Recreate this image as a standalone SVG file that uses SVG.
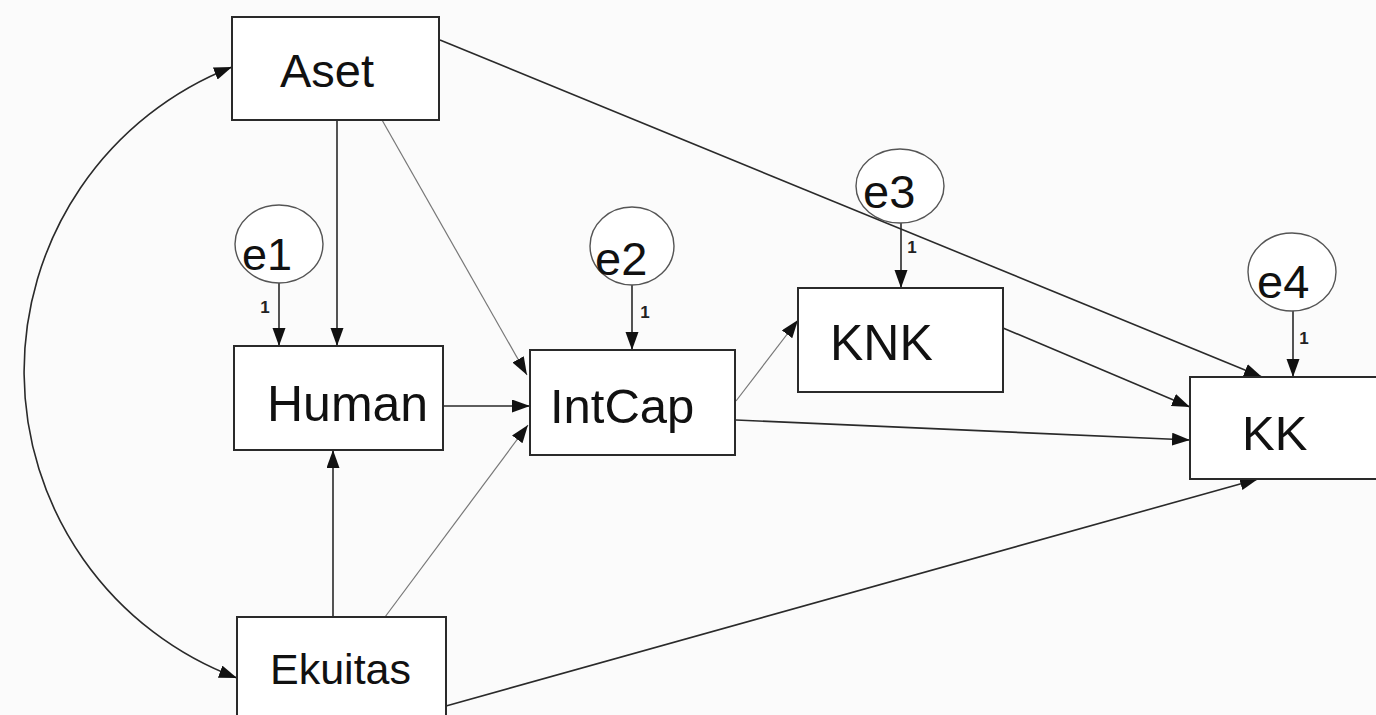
<svg xmlns="http://www.w3.org/2000/svg" width="1376" height="715" viewBox="0 0 1376 715">
<defs>
<style>
.box{fill:#ffffff;stroke:#2a2a2a;stroke-width:2}
.err{fill:#ffffff;stroke:#555;stroke-width:1.4}
.lbl{font-family:"Liberation Sans",Arial,sans-serif;fill:#111}
.one{font-family:"Liberation Sans",Arial,sans-serif;font-size:17px;font-weight:bold;fill:#222;text-anchor:middle}
.c{fill:none;stroke:#2a2a2a;stroke-width:1.6;marker-end:url(#ah)}
.cl{fill:none;stroke:#777;stroke-width:1.2;marker-end:url(#ah)}
</style>
<marker id="ah" markerUnits="userSpaceOnUse" markerWidth="20" markerHeight="14" refX="18" refY="6.5" orient="auto-start-reverse"><path d="M0,0 L18,6.5 L0,13 z" fill="#111"/></marker>
</defs>
<rect width="1376" height="715" fill="#fbfbfb"/>
<g id="connectors">
<path d="M232,67 A327,327 0 0 0 237,678" class="c" style="marker-start:url(#ah)"/>
<line x1="337" y1="120" x2="337" y2="346" class="c"/>
<line x1="382" y1="120" x2="527" y2="375" class="cl"/>
<line x1="440" y1="40" x2="1262" y2="377" class="c"/>
<line x1="279" y1="283" x2="279" y2="346" class="c"/>
<line x1="632" y1="285" x2="632" y2="350" class="c"/>
<line x1="901" y1="223" x2="901" y2="288" class="c"/>
<line x1="1293" y1="311" x2="1293" y2="377" class="c"/>
<line x1="443" y1="406" x2="530" y2="406" class="c"/>
<line x1="333" y1="617" x2="333" y2="450" class="c"/>
<line x1="385" y1="617" x2="528" y2="425" class="cl"/>
<line x1="736" y1="401" x2="798" y2="320" class="cl"/>
<line x1="736" y1="420" x2="1190" y2="440" class="c"/>
<line x1="1003" y1="328" x2="1190" y2="407" class="c"/>
<line x1="446" y1="706" x2="1258" y2="479" class="c"/>
</g>
<g id="Aset"><rect x="232" y="17" width="207" height="103" class="box"/><text x="280" y="87" class="lbl" font-size="47">Aset</text></g>
<g id="Human"><rect x="234" y="346" width="209" height="104" class="box"/><text x="267" y="421" class="lbl" font-size="50">Human</text></g>
<g id="IntCap"><rect x="530" y="350" width="205" height="105" class="box"/><text x="550" y="423" class="lbl" font-size="49">IntCap</text></g>
<g id="KNK"><rect x="798" y="288" width="205" height="104" class="box"/><text x="830" y="360" class="lbl" font-size="50">KNK</text></g>
<g id="KK"><rect x="1190" y="377" width="200" height="102" class="box"/><text x="1242" y="450" class="lbl" font-size="49">KK</text></g>
<g id="Ekuitas"><rect x="237" y="617" width="209" height="110" class="box"/><text x="270" y="684" class="lbl" font-size="43">Ekuitas</text></g>
<g id="e1"><ellipse cx="279" cy="244" rx="44" ry="39" class="err"/><text x="242" y="270" class="lbl" font-size="45">e1</text><text x="265" y="313" class="one">1</text></g>
<g id="e2"><ellipse cx="632" cy="246" rx="42" ry="39" class="err"/><text x="645" y="318" class="one">1</text><text x="595" y="275" class="lbl" font-size="47">e2</text></g>
<g id="e3"><ellipse cx="900" cy="186" rx="44" ry="37" class="err"/><text x="863" y="208" class="lbl" font-size="47">e3</text><text x="912" y="253" class="one">1</text></g>
<g id="e4"><ellipse cx="1292" cy="272" rx="44" ry="39" class="err"/><text x="1257" y="298" class="lbl" font-size="47">e4</text><text x="1304" y="344" class="one">1</text></g>
</svg>
